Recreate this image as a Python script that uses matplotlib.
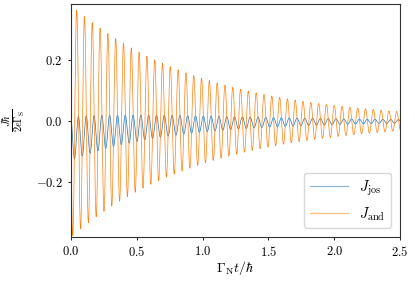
import numpy as np
import matplotlib
matplotlib.use("Agg")
import matplotlib.pyplot as plt

plt.rcParams['font.family'] = 'serif'
plt.rcParams['font.serif'] = ['cmr10']
plt.rcParams['mathtext.fontset'] = 'cm'
plt.rcParams['axes.formatter.use_mathtext'] = True
plt.rcParams['axes.unicode_minus'] = True

# values
x_ticks = [0.0, 0.5, 1.0, 1.5, 2.0, 2.5]
y_ticks = [-0.2, 0.0, 0.2]
labels = [r'$J_\mathrm{jos}$', r'$J_\mathrm{and}$']

period = 0.0593          # oscillation period in Gamma_N t / hbar
and_peak_t = 0.0433      # first maximum of J_and
and_amp = 0.38           # envelope of J_and at t = 0
and_decay = 1.0
jos_trough_t = 0.027     # first minimum of J_jos
jos_amp = 0.071
jos_decay = 1.0
jos_offset = -0.057
jos_offset_decay = 1.8

t = np.linspace(0, 2.5, 6000)
w = 2 * np.pi / period
j_and = and_amp * np.exp(-and_decay * t) * np.cos(w * (t - and_peak_t))
j_jos = (jos_offset * np.exp(-jos_offset_decay * t)
         - jos_amp * np.exp(-jos_decay * t) * np.cos(w * (t - jos_trough_t)))

fig = plt.figure(figsize=(4.15, 2.86), dpi=100)
ax = fig.add_axes([0.171, 0.171, 0.793, 0.815])
ax.plot(t, j_jos, color='#1f77b4', lw=0.5, label=labels[0])
ax.plot(t, j_and, color='#ff7f0e', lw=0.5, label=labels[1])
ax.set_xlim(0, 2.5)
ax.set_ylim(-0.38, 0.384)
ax.set_xticks(x_ticks)
ax.set_yticks(y_ticks)
ax.tick_params(labelsize=9, length=2.5, width=0.6)
for s in ax.spines.values():
    s.set_linewidth(0.8)
    s.set_color('#333333')
ax.set_xlabel(r'$\Gamma_\mathrm{N} t/\hbar$', fontsize=10, labelpad=0)
ax.set_ylabel(r'$\frac{J\hbar}{2e\Gamma_\mathrm{S}}$', fontsize=10.5, labelpad=6)
leg = ax.legend(loc='lower right', fontsize=10.5, handlelength=2.6, borderaxespad=0.6)
for h, c in zip(leg.get_lines(), ['#8fb8da', '#ffbf86']):
    h.set_linewidth(0.9)
    h.set_color(c)
fig.savefig('out.png', dpi=100)
